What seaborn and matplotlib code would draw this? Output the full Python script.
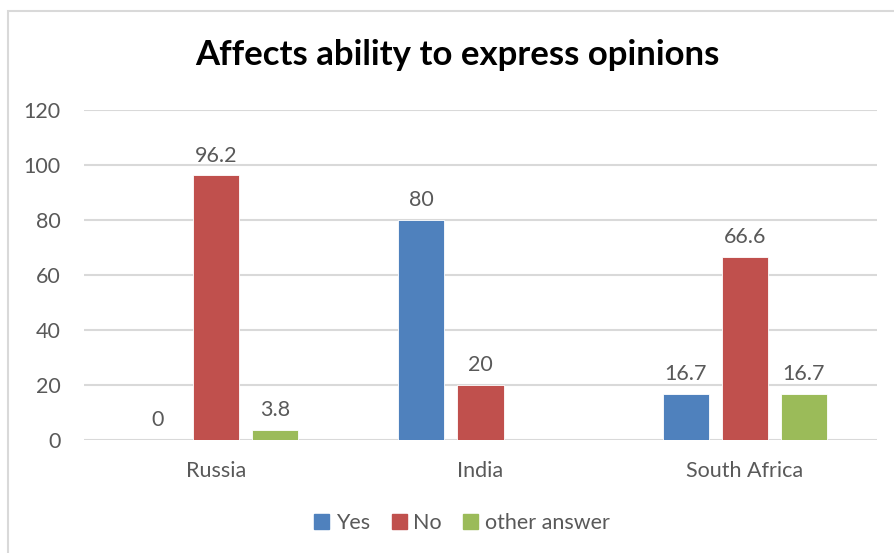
import matplotlib
matplotlib.use("Agg")
import matplotlib.pyplot as plt
from matplotlib.patches import Rectangle
import numpy as np
import pandas as pd
import seaborn as sns

# Survey results (%)
countries = ["Russia", "India", "South Africa"]
answers = ["Yes", "No", "other answer"]
yes_vals = [0, 80, 16.7]
no_vals = [96.2, 20, 66.6]
other_vals = [3.8, np.nan, 16.7]
colors = ["#4F81BD", "#C0504D", "#9BBB59"]
title = "Affects ability to express opinions"
y_ticks = [0, 20, 40, 60, 80, 100, 120]

df = pd.DataFrame({
    "country": countries * 3,
    "answer": [answers[0]] * 3 + [answers[1]] * 3 + [answers[2]] * 3,
    "value": yes_vals + no_vals + other_vals,
})

sns.set_theme(style="white")
plt.rcParams["font.family"] = ["Lato", "DejaVu Sans"]
text_gray = "#595959"
grid_gray = "#D9D9D9"
fs = 15.5

fig = plt.figure(figsize=(8.94, 5.53), dpi=100)
ax = fig.add_axes([84 / 894, 1 - 440 / 553, (877 - 84) / 894, 330 / 553])

sns.barplot(data=df, x="country", y="value", hue="answer", order=countries,
            hue_order=answers, palette=colors, width=0.67, gap=0.22,
            saturation=1, edgecolor="white", linewidth=0.6, ax=ax, legend=False)

for cont in ax.containers:
    ax.bar_label(cont, fmt="{:g}", padding=7, fontsize=fs, color=text_gray)

ax.set_xlim(-0.5, 2.5)
ax.set_ylim(0, 120)
ax.set_yticks(y_ticks)
ax.yaxis.grid(True, color=grid_gray, linewidth=1.5)
ax.set_axisbelow(True)
for s in ax.spines.values():
    s.set_visible(False)
ax.set_xlabel("")
ax.set_ylabel("")
ax.tick_params(axis="y", length=0, pad=17, labelsize=fs, labelcolor=text_gray)
ax.tick_params(axis="x", length=0, pad=15, labelsize=fs, labelcolor=text_gray)

fig.text(457 / 894, 1 - 55 / 553, title, ha="center", va="center",
         fontsize=25, fontweight="bold", color="black")

handles = [plt.Rectangle((0, 0), 1, 1, color=c) for c in colors]
fig.legend(handles, answers, loc="center", bbox_to_anchor=(462 / 894, 1 - 523 / 553),
           ncol=3, frameon=False, fontsize=fs, labelcolor=text_gray,
           handlelength=0.7, handleheight=0.7, handletextpad=0.3, columnspacing=1.0)

# chart frame
fig.patches.append(Rectangle((8 / 894, -0.1), 1.2, 1.1 - 11 / 553, transform=fig.transFigure,
                             fill=False, edgecolor=grid_gray, linewidth=1.5, zorder=-1))

fig.savefig("out.png", dpi=100)
